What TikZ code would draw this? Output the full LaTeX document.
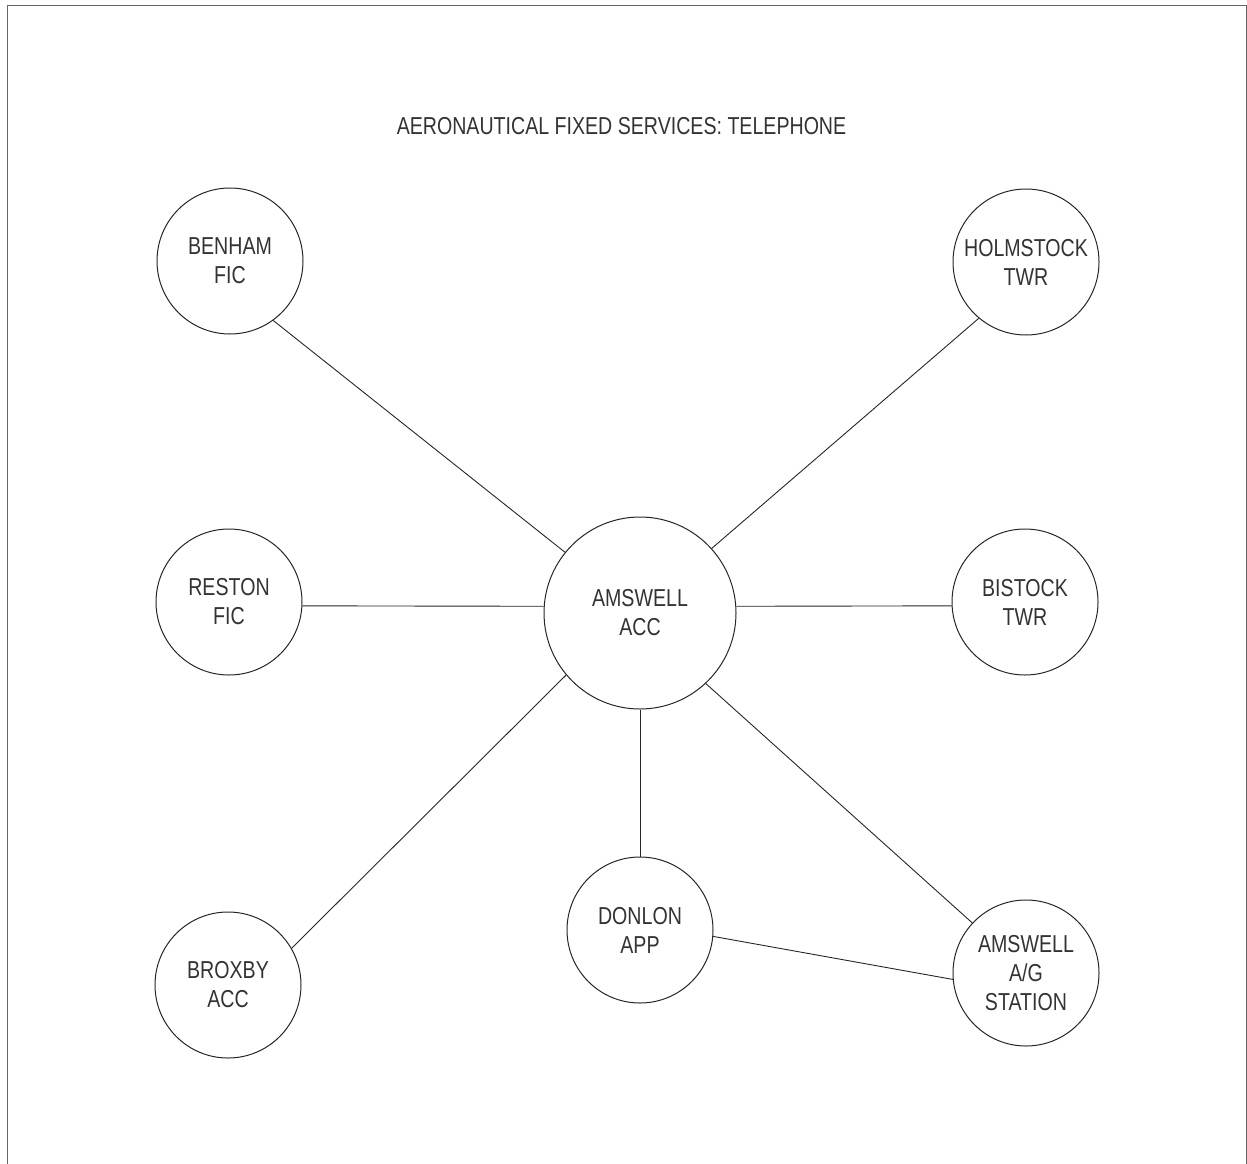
\documentclass[tikz,border=0pt]{standalone}
\usepackage{fontspec}
\setmainfont{Liberation Sans}[FakeStretch=0.8]
\begin{document}
\begin{tikzpicture}[x=1pt,y=-1pt,
  station/.style={circle, draw=black!85, line width=1pt, minimum size=146pt, inner sep=0pt,
    align=center, font=\fontsize{24.5}{29}\selectfont, text=black!80},
  link/.style={draw=black!85, line width=0.9pt},
  frame/.style={draw=black!60, line width=1pt}]
\useasboundingbox (0,0) rectangle (1247,1164);
\draw[frame] (7.5,1164) -- (7.5,6) -- (1246.5,6) -- (1246.5,1164);
\node[font=\fontsize{24.5}{29}\selectfont, text=black!80, anchor=base] (title) at (621.5,134) {AERONAUTICAL FIXED SERVICES: TELEPHONE};
\node[station] (ben) at (230,261) {BENHAM\\FIC};
\node[station] (hol) at (1026,262) {HOLMSTOCK\\TWR};
\node[station] (res) at (229,602) {RESTON\\FIC};
\node[station, minimum size=192pt] (acc) at (640,613) {AMSWELL\\ACC};
\node[station] (bis) at (1025,602) {BISTOCK\\TWR};
\node[station] (don) at (640,930) {DONLON\\APP};
\node[station] (brx) at (228,985) {BROXBY\\ACC};
\node[station] (ag) at (1026,973) {AMSWELL\\A/G\\STATION};
\draw[link] (ben.-54) -- (acc.141);
\draw[link] (hol.-130) -- (acc.42);
\draw[link] (res.-3) -- (acc.176);
\draw[link] (bis.183) -- (acc.4);
\draw[link] (brx.30) -- (acc.220);
\draw[link] (acc.-90) -- (don.90);
\draw[link] (acc.-47) -- (ag.137);
\draw[link] (don.-5) -- (ag.185);
\end{tikzpicture}
\end{document}
